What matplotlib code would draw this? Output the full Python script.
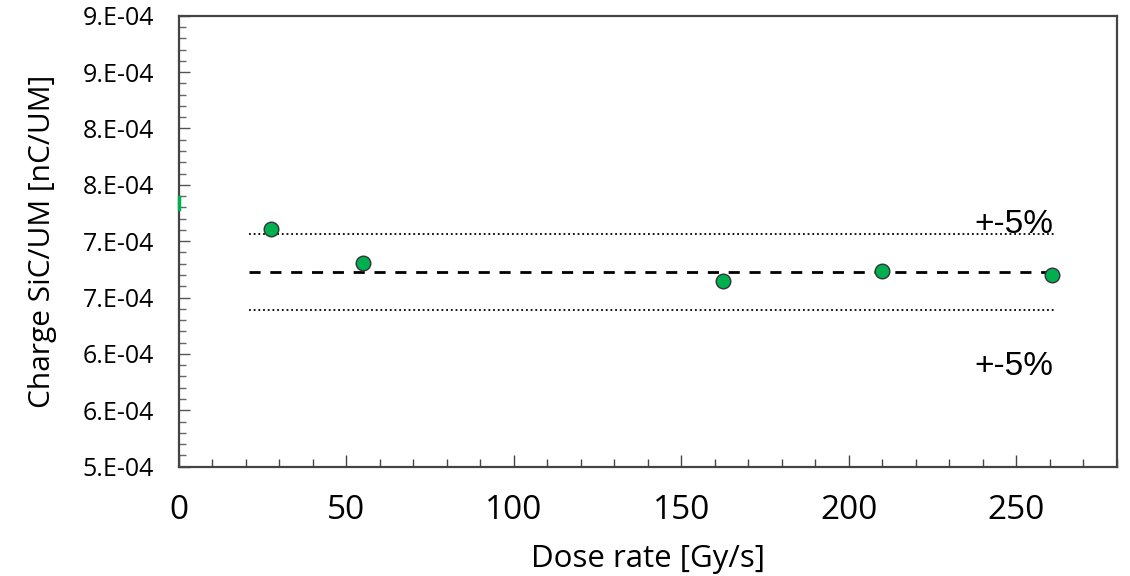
import numpy as np
import matplotlib.pyplot as plt
from matplotlib.ticker import MultipleLocator, FixedLocator

# measured points
dose_rate = [27.4, 55.0, 162.5, 209.9, 260.8]
charge = [7.106e-4, 6.807e-4, 6.647e-4, 6.738e-4, 6.703e-4]

# reference lines (mean and +-5 %)
line_x = [21.0, 262.0]
mean_charge = 6.724e-4
upper_charge = mean_charge * 1.05
lower_charge = mean_charge * 0.95

# stray clipped mark on the left axis
stray_x = [0.0, 0.0]
stray_y = [7.39e-4, 7.29e-4]

y_ticks = [5.0e-4, 5.5e-4, 6.0e-4, 6.5e-4, 7.0e-4, 7.5e-4, 8.0e-4, 8.5e-4, 9.0e-4]
# Excel style 0.E+00 labels (rounded half up)
y_tick_labels = ["5.E-04", "6.E-04", "6.E-04", "7.E-04", "7.E-04",
                 "8.E-04", "8.E-04", "9.E-04", "9.E-04"]
band_label = "+-5%"

fig = plt.figure(figsize=(11.3, 5.76), dpi=100)
ax = fig.add_axes([0.1584, 0.1898, 0.9883 - 0.1584, 0.9727 - 0.1898])

ax.plot(line_x, [upper_charge, upper_charge], color="black", ls=(0, (1, 1.6)), lw=1.3)
ax.plot(line_x, [lower_charge, lower_charge], color="black", ls=(0, (1, 1.6)), lw=1.3)
ax.plot(line_x, [mean_charge, mean_charge], color="black", ls=(0, (4, 3.5)), lw=2.0)
ax.plot(dose_rate, charge, "o", ms=10.5, mfc="#00b050", mec="#333333", mew=1.0, zorder=5)
ax.plot(stray_x, stray_y, color="#00b050", lw=2.5, clip_on=False, zorder=6)

ax.text(261, upper_charge + 1.0e-6, band_label, ha="right", va="baseline",
        fontsize=24, family="Liberation Sans")
ax.text(261, 5.813e-4, band_label, ha="right", va="baseline",
        fontsize=24, family="Liberation Sans")

ax.set_xlim(0, 280)
ax.set_ylim(5.0e-4, 9.0e-4)

ax.xaxis.set_major_locator(MultipleLocator(50))
ax.xaxis.set_minor_locator(MultipleLocator(10))
ax.yaxis.set_major_locator(FixedLocator(y_ticks))
ax.yaxis.set_minor_locator(MultipleLocator(1.0e-5))
ax.set_yticklabels(y_tick_labels)

ax.tick_params(axis="x", which="major", direction="in", length=9, width=1.0,
               color="#444444", pad=20, labelsize=24)
ax.tick_params(axis="x", which="minor", direction="in", length=6, width=1.0, color="#444444")
ax.tick_params(axis="y", which="major", direction="in", length=8, width=1.0,
               color="#555555", pad=18, labelsize=18)
ax.tick_params(axis="y", which="minor", direction="in", length=5, width=1.0, color="#666666")
for lab in ax.get_xticklabels() + ax.get_yticklabels():
    lab.set_family("Open Sans")

for side in ["left", "bottom", "top", "right"]:
    ax.spines[side].set_color("#444444")
    ax.spines[side].set_linewidth(1.6)

ax.set_xlabel("Dose rate [Gy/s]", fontsize=22.5, family="Open Sans", labelpad=12)
ax.set_ylabel("Charge SiC/UM [nC/UM]", fontsize=21.5, family="Open Sans", labelpad=18)

fig.savefig("out.png", dpi=100)
